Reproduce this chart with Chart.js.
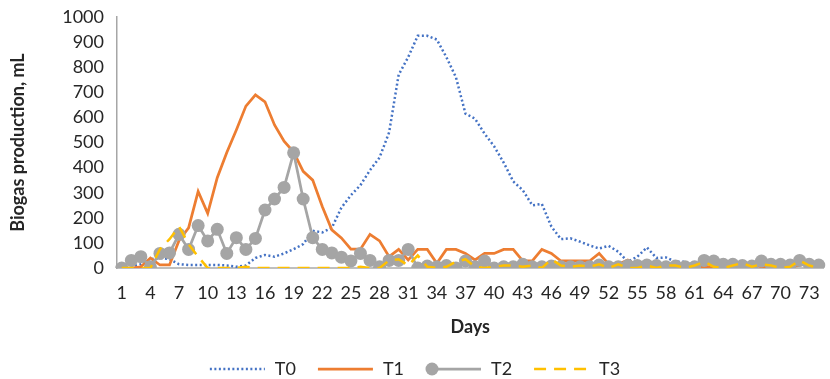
<!DOCTYPE html>
<html>
<head>
<meta charset="utf-8">
<script src="https://cdn.jsdelivr.net/npm/chart.js@4.4.0/dist/chart.umd.min.js"></script>
<style>
  html, body { margin: 0; padding: 0; background: #fff; }
  #wrap { width: 830px; height: 379px; }
</style>
</head>
<body>
<div id="wrap"><canvas id="myChart" width="830" height="379"></canvas></div>
<script>
// days 1..74
const days = [];
for (let d = 1; d <= 74; d++) days.push(d);

const yTicks = [0, 100, 200, 300, 400, 500, 600, 700, 800, 900, 1000];

const t0 = [0, 5, 15, 35, 40, 35, 15, 12, 12, 12, 12, 10, 5, 10, 40, 52, 45, 58, 75, 95,
  148, 142, 160, 240, 290, 330, 390, 440, 540, 770, 840, 925, 925, 910, 840, 760, 615, 595, 535, 485,
  420, 345, 310, 250, 255, 165, 115, 118, 105, 90, 78, 88, 65, 25, 45, 82, 40, 42, 25, 25,
  5, 0, 5, 10, 10, 20, 15, 10, 10, 15, 10, 15, 20, 10];

const t1 = [0, 0, 5, 40, 12, 12, 110, 160, 305, 218, 360, 460, 550, 645, 690, 662, 570, 505, 462, 385,
  350, 245, 152, 120, 75, 75, 134, 108, 45, 74, 32, 74, 74, 19, 74, 74, 58, 32, 58, 58,
  74, 74, 28, 28, 74, 58, 28, 28, 28, 28, 58, 15, 15, 32, 10, 8, 5, 5, 5, 5,
  5, 5, 5, 5, 5, 10, 15, 5, 5, 5, 5, 10, 25, 12];

const t2 = [0, 30, 45, 5, 58, 60, 134, 74, 169, 108, 154, 58, 121, 74, 118, 231, 275, 321, 459, 275,
  121, 74, 60, 43, 28, 58, 30, 5, 30, 30, 74, 0, 8, 5, 10, 0, 28, 5, 28, 0,
  5, 5, 15, 5, 5, 8, 5, 5, 5, 5, 12, 5, 5, 10, 10, 12, 10, 5, 8, 5,
  5, 30, 28, 15, 15, 10, 8, 28, 15, 15, 12, 30, 15, 12];

const t3 = [0, 0, 0, 0, 75, 115, 165, 95, 45, 0, 0, 0, 0, 5, 0, 0, 0, 0, 0, 0,
  0, 0, 0, 0, 0, 5, 0, 0, 30, 35, 10, 50, 5, 0, 5, 25, 35, 5, 0, 5,
  10, 10, 5, 10, 0, 35, 10, 5, 10, 5, 15, 0, 15, 0, 0, 10, 0, 10, 10, 0,
  10, 25, 5, 0, 10, 20, 5, 15, 10, 0, 5, 30, 10, 0];

const seriesNames = ['T0', 'T1', 'T2', 'T3'];
const seriesColors = ['#4472C4', '#ED7D31', '#A5A5A5', '#FFC000'];

const FONT = 'Lato, "Noto Sans", sans-serif';
const TEXT = '#262626';
const SIZE = 18;

// legend drawn under the x title, samples copy each dataset's line style
const bottomLegend = {
  id: 'bottomLegend',
  afterDraw(chart) {
    const ctx = chart.ctx;
    const y = 369;
    const sample = 55;
    const textGap = 10;
    ctx.font = SIZE + 'px ' + FONT;
    const widths = chart.data.datasets.map(ds => sample + textGap + ctx.measureText(ds.label).width);
    const gap = 22;
    const total = widths.reduce((a, b) => a + b, 0) + gap * (widths.length - 1);
    let x = (chart.width - total) / 2;
    chart.data.datasets.forEach((ds, i) => {
      ctx.save();
      ctx.strokeStyle = ds.borderColor;
      ctx.lineWidth = ds.borderWidth;
      ctx.setLineDash(ds.borderDash || []);
      ctx.beginPath();
      ctx.moveTo(x, y);
      ctx.lineTo(x + sample, y);
      ctx.stroke();
      if (ds.pointRadius > 0) {
        ctx.setLineDash([]);
        ctx.fillStyle = ds.pointBackgroundColor;
        ctx.beginPath();
        ctx.arc(x + 6, y, ds.pointRadius, 0, Math.PI * 2);
        ctx.fill();
      }
      ctx.fillStyle = TEXT;
      ctx.font = SIZE + 'px ' + FONT;
      ctx.textBaseline = 'middle';
      ctx.textAlign = 'left';
      ctx.fillText(ds.label, x + sample + textGap, y);
      ctx.restore();
      x += widths[i] + gap;
    });
  }
};

const ctx = document.getElementById('myChart').getContext('2d');
const myChart = new Chart(ctx, {
  type: 'line',
  data: {
    labels: days,
    datasets: [
      {
        label: seriesNames[0],
        data: t0,
        borderColor: seriesColors[0],
        borderWidth: 2.5,
        borderDash: [2, 2.5],
        pointRadius: 0,
        order: 4
      },
      {
        label: seriesNames[1],
        data: t1,
        borderColor: seriesColors[1],
        borderWidth: 2.75,
        pointRadius: 0,
        order: 3
      },
      {
        label: seriesNames[2],
        data: t2,
        borderColor: seriesColors[2],
        borderWidth: 2.75,
        pointRadius: 6.5,
        pointBackgroundColor: seriesColors[2],
        pointBorderColor: seriesColors[2],
        pointBorderWidth: 0,
        order: 2
      },
      {
        label: seriesNames[3],
        data: t3,
        borderColor: seriesColors[3],
        borderWidth: 2.5,
        borderDash: [12, 8],
        pointRadius: 0,
        order: 1
      }
    ]
  },
  options: {
    responsive: false,
    animation: false,
    layout: {
      padding: { top: 17, right: 0, bottom: 41, left: 0 }
    },
    elements: {
      line: { tension: 0 }
    },
    scales: {
      x: {
        offset: true,
        grid: { display: false, drawTicks: false },
        border: { display: true, color: '#BFBFBF', width: 2 },
        ticks: {
          autoSkip: false,
          maxRotation: 0,
          padding: 14,
          color: TEXT,
          font: { family: FONT, size: SIZE },
          callback: function(value, index) {
            return index % 3 === 0 ? days[index] : '';
          }
        },
        title: {
          display: true,
          text: 'Days',
          color: TEXT,
          font: { family: FONT, size: SIZE, weight: 'bold' },
          padding: { top: 0, bottom: 0 }
        },
        afterFit: function(scale) {
          scale.height = 70;
          scale.paddingLeft = 0;
          scale.paddingRight = 0;
        }
      },
      y: {
        min: 0,
        max: 1000,
        afterBuildTicks: function(scale) {
          scale.ticks = yTicks.map(v => ({ value: v }));
        },
        grid: { display: false, drawTicks: false },
        border: { display: true, color: '#A6A6A6', width: 1.5 },
        ticks: {
          padding: 13,
          color: TEXT,
          font: { family: FONT, size: SIZE },
          callback: function(value) { return String(value); }
        },
        title: {
          display: true,
          text: 'Biogas production, mL',
          color: TEXT,
          font: { family: FONT, size: SIZE, weight: 'bold' },
          padding: { top: 7, bottom: 0 }
        },
        afterFit: function(scale) {
          scale.width = 117;
          scale.paddingTop = 0;
          scale.paddingBottom = 0;
        }
      }
    },
    plugins: {
      legend: { display: false },
      tooltip: { enabled: false },
      title: { display: false }
    }
  },
  plugins: [bottomLegend]
});
</script>
</body>
</html>
